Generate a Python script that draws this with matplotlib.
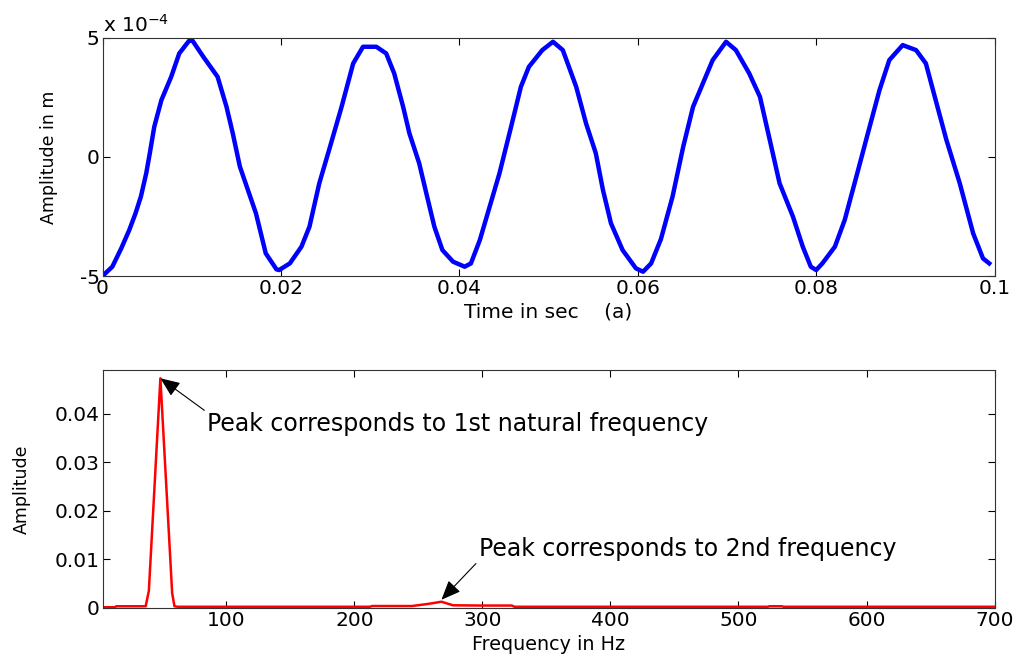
import numpy as np
import matplotlib
matplotlib.use('Agg')
from matplotlib import pyplot as plt

# time response (time in ms, amplitude in 1e-4 m)
t_ms = [0.0, 1.1, 2.1, 3.0, 3.7, 4.3, 4.9, 5.3, 5.8, 6.6, 7.7, 8.6, 9.7, 10.1,
        11.3, 12.9, 13.9, 14.6, 15.4, 16.3, 17.2, 18.3, 19.5, 19.8, 21.0, 22.3,
        23.2, 24.3, 25.4, 26.8, 28.1, 29.2, 30.7, 31.8, 32.7, 33.7, 34.4, 35.5,
        36.3, 37.2, 38.1, 39.3, 40.6, 41.3, 42.3, 43.4, 44.5, 45.8, 46.9, 47.8,
        49.3, 50.5, 51.6, 53.1, 54.2, 55.3, 56.1, 57.0, 58.3, 59.8, 60.6, 61.5,
        62.6, 63.9, 65.1, 66.2, 67.3, 68.4, 69.9, 71.0, 72.5, 73.7, 74.8, 75.9,
        77.4, 78.5, 79.4, 80.0, 80.7, 82.1, 83.2, 84.5, 85.8, 87.1, 88.2, 89.7,
        91.2, 92.3, 93.4, 94.6, 96.1, 97.6, 98.7, 99.4]
amp_e4 = [-5.0, -4.61, -3.84, -3.07, -2.37, -1.67, -0.69, 0.15, 1.26, 2.38, 3.36,
          4.34, 4.87, 4.87, 4.20, 3.36, 2.10, 0.99, -0.41, -1.39, -2.37, -4.05,
          -4.72, -4.75, -4.47, -3.77, -2.93, -1.11, 0.29, 2.10, 3.92, 4.62, 4.62,
          4.34, 3.50, 2.10, 0.99, -0.27, -1.53, -2.93, -3.91, -4.40, -4.61, -4.47,
          -3.49, -2.09, -0.69, 1.26, 2.94, 3.78, 4.48, 4.83, 4.48, 2.94, 1.41,
          0.15, -1.39, -2.79, -3.91, -4.68, -4.82, -4.47, -3.45, -1.67, 0.43,
          2.10, 3.08, 4.06, 4.83, 4.48, 3.50, 2.52, 0.71, -1.11, -2.51, -3.77,
          -4.61, -4.75, -4.47, -3.77, -2.65, -0.84, 0.99, 2.80, 4.06, 4.69, 4.48,
          3.92, 2.38, 0.71, -1.11, -3.21, -4.26, -4.47]

# spectrum
freq = [3.8, 13, 14, 37, 39.5, 48.5, 57.7, 59.5, 62, 212, 214, 245, 258, 268,
        277, 300, 323, 325, 523, 524, 534, 535, 700]
spec = [0.0001, 0.0001, 0.0003, 0.0003, 0.0035, 0.0473, 0.003, 0.0003, 0.0002,
        0.0002, 0.00035, 0.00035, 0.0008, 0.00124, 0.0005, 0.00045, 0.00045,
        0.0002, 0.0002, 0.0003, 0.0003, 0.0002, 0.0002]

t_ticks = [0, 0.02, 0.04, 0.06, 0.08, 0.1]
t_labels = ['0', '0.02', '0.04', '0.06', '0.08', '0.1']
f_ticks = [100, 200, 300, 400, 500, 600, 700]
a_ticks = [0, 0.01, 0.02, 0.03, 0.04]
a_labels = ['0', '0.01', '0.02', '0.03', '0.04']

fs_tick = 14.5
fs_ann = 17
fs_ylab = 12.5

fig = plt.figure(figsize=(10.16, 6.57), dpi=100)
ax1 = fig.add_axes([0.1009, 0.5799, 0.878, 0.3627])
ax2 = fig.add_axes([0.1009, 0.0750, 0.878, 0.3618])

t = np.array(t_ms) / 1000.0
ax1.plot(t, amp_e4, color=(0, 0, 1), lw=3.2, solid_joinstyle='round')
ax1.set_xlim(0, 0.1)
ax1.set_ylim(-5, 5)
ax1.set_xticks(t_ticks, t_labels)
ax1.set_yticks([-5, 0, 5], ['-5', '0', '5'])
ax1.set_xlabel('Time in sec    (a)', fontsize=14.5)
ax1.set_ylabel('Amplitude in m', fontsize=fs_ylab)
ax1.xaxis.set_label_coords(0.5, -0.113)
ax1.yaxis.set_label_coords(-0.050, 0.5)
ax1.text(0.0, 1.01, r'x 10$^{-4}$', transform=ax1.transAxes, fontsize=fs_tick,
         ha='left', va='bottom')

f = np.array(freq)
s = np.array(spec)
ax2.plot(f, s, color=(1, 0, 0), lw=1.8)
ax2.set_xlim(3.3, 700)
ax2.set_ylim(0, 0.049)
ax2.set_xticks(f_ticks, [str(v) for v in f_ticks])
ax2.set_yticks(a_ticks, a_labels)
ax2.set_xlabel('Frequency in Hz', fontsize=13.8)
ax2.set_ylabel('Amplitude', fontsize=fs_ylab)
ax2.xaxis.set_label_coords(0.5, -0.113)
ax2.yaxis.set_label_coords(-0.080, 0.5)

i1 = int(np.argmax(s))
sec = (f > 200) & (f < 400)
i2 = np.where(sec)[0][np.argmax(s[sec])]
arrow = dict(arrowstyle='-|>,head_length=0.6,head_width=0.25', color='k',
             lw=0.8, mutation_scale=20, shrinkA=0, shrinkB=0)
ax2.annotate('Peak corresponds to 1st natural frequency',
             xy=(f[i1], s[i1]), xytext=(85, 0.0378), fontsize=fs_ann,
             ha='left', va='center',
             arrowprops=dict(arrow, relpos=(0, 1)))
ax2.annotate('Peak corresponds to 2nd frequency',
             xy=(f[i2], s[i2] + 0.0004), xytext=(297, 0.01215), fontsize=fs_ann,
             ha='left', va='center',
             arrowprops=dict(arrow, relpos=(0, 0)))

for ax in (ax1, ax2):
    ax.tick_params(direction='in', length=5, width=0.8, top=True, right=True,
                   labelsize=fs_tick, pad=2)
    for sp in ax.spines.values():
        sp.set_linewidth(0.8)
        sp.set_color('#333333')

fig.savefig('out.png', dpi=100)
